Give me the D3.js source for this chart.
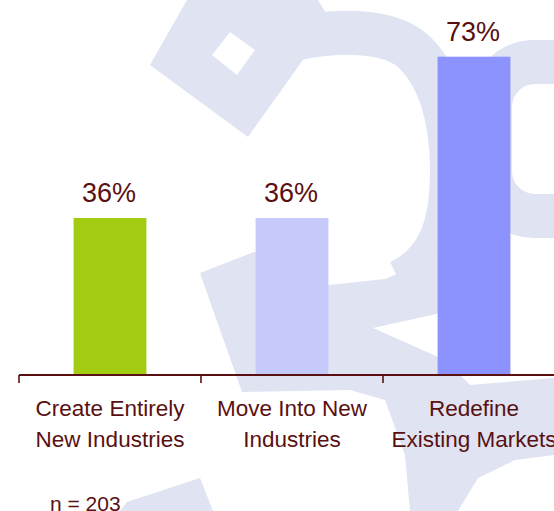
<!DOCTYPE html>
<html>
<head>
<meta charset="utf-8">
<script src="https://cdn.jsdelivr.net/npm/d3@7"></script>
<style>
  html, body { margin: 0; padding: 0; background: #ffffff; }
  svg { display: block; }
  text { font-family: "Liberation Sans", Arial, Helvetica, sans-serif; }
</style>
</head>
<body>
<svg id="chart" width="554" height="511"></svg>
<script>
// Survey: where companies expect growth (share of respondents)
const categories = ["Create Entirely New Industries", "Move Into New Industries", "Redefine Existing Markets"];
const categoryLines = [["Create Entirely", "New Industries"], ["Move Into New", "Industries"], ["Redefine", "Existing Markets"]];
const shares = [36, 36, 73];
const barColors = ["#a2cc12", "#c5cafb", "#8c92fe"];
const sampleNote = "n = 203";

const W = 554, H = 511;
const ink = "#5a1010";
const svg = d3.select("#chart");

// Faint background logo
const mark = svg.append("g").attr("fill", "#dfe3f2").attr("stroke", "none");
mark.append("path").attr("d", "M187,0 L150,65 L248,137 L300,64 L330,20 L318,0 Z");
mark.append("path").attr("fill", "none").attr("stroke", "#dfe3f2").attr("stroke-width", 44)
  .attr("d", "M290,40 C330,30 385,28 412,50 C440,75 452,120 452,170 C452,225 440,262 400,282");
mark.append("rect").attr("x", 490).attr("y", 62).attr("width", 130).attr("height", 154).attr("rx", 45)
  .attr("fill", "none").attr("stroke", "#dfe3f2").attr("stroke-width", 44);
mark.append("path").attr("d", "M200,273 L254,252 L300,262 L329,285 L385,279 L425,262 L445,240 L445,312 L373,328 L445,360 L470,385 L554,378 L554,455 L515,460 L478,478 L458,511 L410,511 L405,455 L385,400 L350,390 L242,392 Z");
mark.append("path").attr("d", "M120,511 L127,502 L200,478 L213,511 Z");
mark.append("path").attr("fill", "#ffffff").attr("d", "M212,55 L230,32 L255,50 L237,75 Z");

// Scales
const x = d3.scaleBand().domain(categories).range([19, 19 + 3 * 182]).padding(0);
const y = d3.scaleLinear().domain([0, 86]).range([375, 0]);
const barW = x.bandwidth() * 0.4;

// Bars
svg.append("g").selectAll("rect").data(categories).join("rect")
  .attr("x", d => x(d) + x.bandwidth() / 2 - barW / 2)
  .attr("y", (d, i) => y(shares[i]))
  .attr("width", barW)
  .attr("height", (d, i) => y(0) - y(shares[i]))
  .attr("fill", (d, i) => barColors[i]);

// Value labels
svg.append("g").selectAll("text").data(categories).join("text")
  .attr("x", d => x(d) + x.bandwidth() / 2 - 1)
  .attr("y", (d, i) => y(shares[i]) - 16)
  .attr("text-anchor", "middle")
  .attr("font-size", 27)
  .attr("fill", ink)
  .text((d, i) => shares[i] + "%");

// Category axis: baseline with ticks on band boundaries
const axis = svg.append("g");
axis.append("line")
  .attr("x1", x.range()[0]).attr("x2", x.range()[1])
  .attr("y1", y(0)).attr("y2", y(0))
  .attr("stroke", ink).attr("stroke-width", 2);
axis.selectAll("line.tick").data(categories).join("line")
  .attr("class", "tick")
  .attr("x1", d => x(d)).attr("x2", d => x(d))
  .attr("y1", y(0)).attr("y2", y(0) + 8)
  .attr("stroke", ink).attr("stroke-width", 1.6);

const labels = axis.selectAll("text.cat").data(categories).join("text")
  .attr("class", "cat")
  .attr("text-anchor", "middle")
  .attr("font-size", 22.5)
  .attr("fill", ink)
  .attr("x", d => x(d) + x.bandwidth() / 2);
labels.each(function (d, i) {
  d3.select(this).selectAll("tspan").data(categoryLines[i]).join("tspan")
    .attr("x", x(d) + x.bandwidth() / 2)
    .attr("y", (t, j) => 416 + j * 31)
    .text(t => t);
});

// Sample size note
svg.append("text")
  .attr("x", 50).attr("y", 511)
  .attr("font-size", 21)
  .attr("fill", ink)
  .text(sampleNote);
</script>
</body>
</html>
